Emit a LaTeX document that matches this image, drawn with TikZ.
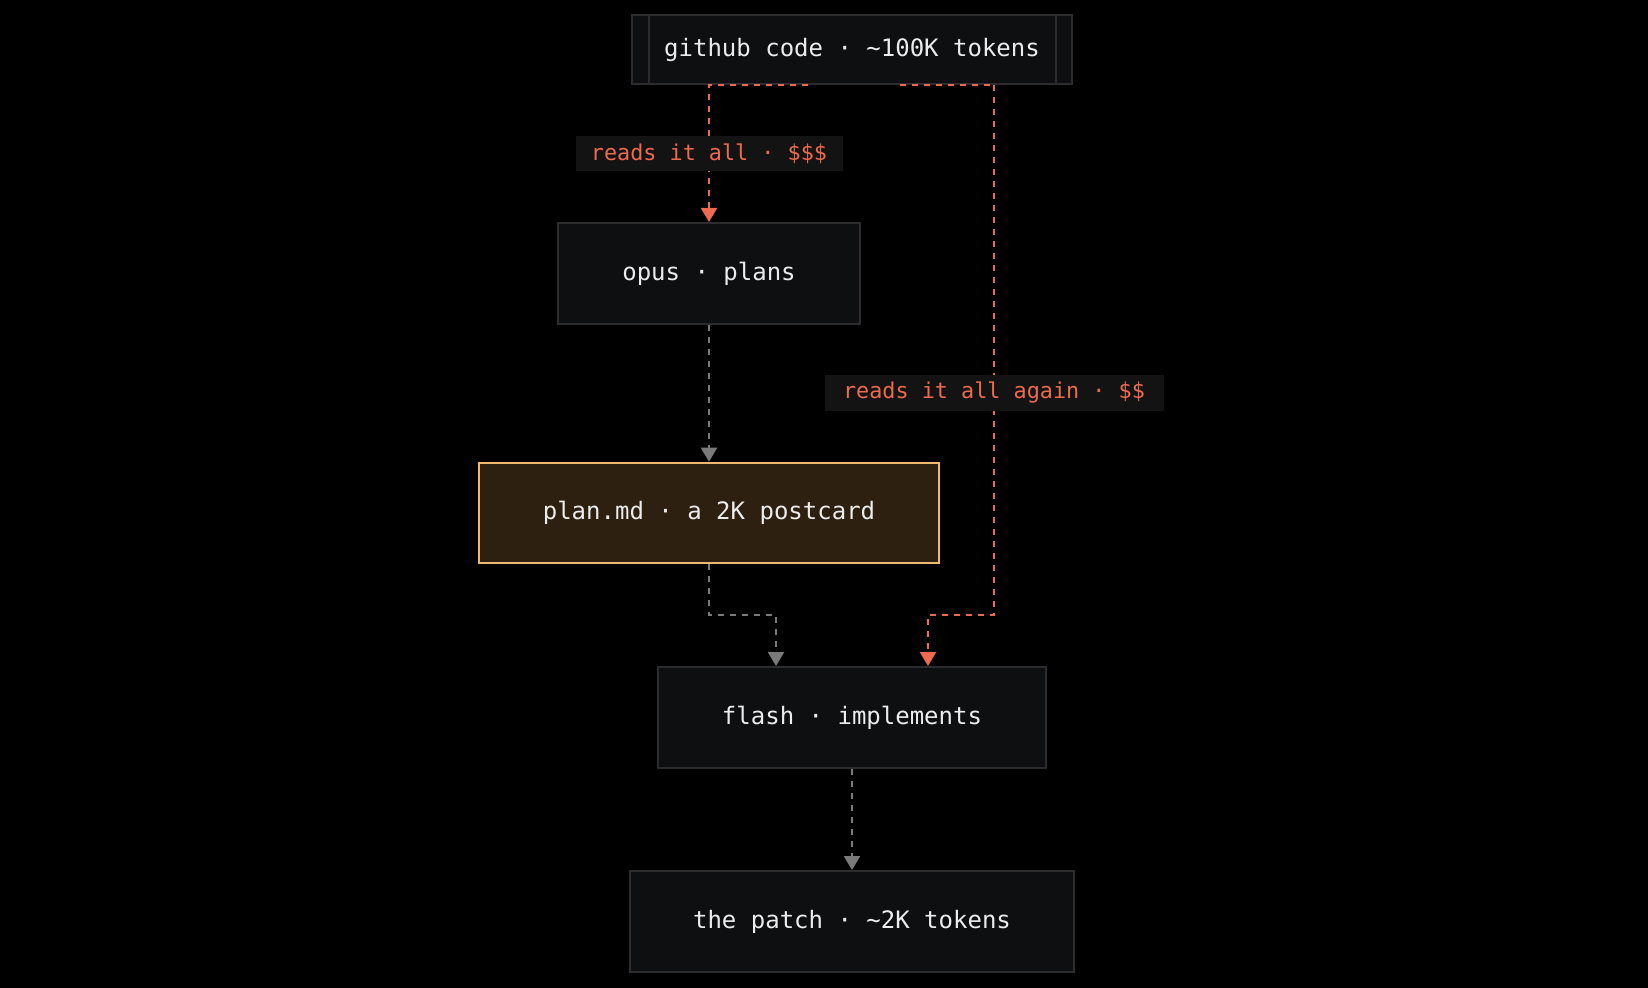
\documentclass[tikz,border=0pt]{standalone}
\usepackage{fontspec}
\setmonofont{DejaVu Sans Mono}
\usetikzlibrary{arrows.meta}
\definecolor{bx}{HTML}{0E0F11}
\definecolor{bd}{HTML}{2C2C2E}
\definecolor{tx}{HTML}{ECECEC}
\definecolor{rd}{HTML}{EE6A4E}
\definecolor{gr}{HTML}{7A7A7A}
\definecolor{lb}{HTML}{131313}
\definecolor{pf}{HTML}{2E2010}
\definecolor{pb}{HTML}{F0B870}
\begin{document}
\begin{tikzpicture}[x=0.5pt,y=-0.5pt,
 box/.style={draw=bd,fill=bx,line width=1pt,text=tx,font=\ttfamily\fontsize{12}{14}\selectfont},
 lab/.style={fill=lb,text=rd,inner sep=0,font=\ttfamily\fontsize{10.9}{13}\selectfont},
 red/.style={draw=rd,line width=1.1pt,dash pattern=on 3pt off 3pt},
 gry/.style={draw=gr,line width=1.1pt,dash pattern=on 3pt off 3pt},
 tip/.style={-{Triangle[width=8pt,length=7pt]}}]
\useasboundingbox[fill=black] (0,0) rectangle (1648,988);
\node[box,minimum width=220pt,minimum height=34.5pt] (gh) at (852,49.5) {github code · \textasciitilde 100K tokens};
\draw[bd,line width=1pt] (649,15) -- (649,84) (1056,15) -- (1056,84);
\node[box,minimum width=151pt,minimum height=50.5pt] (opus) at (709,273.5) {opus · plans};
\node[box,draw=pb,fill=pf,line width=1.3pt,minimum width=230pt,minimum height=50pt] (plan) at (709,513) {plan.md · a 2K postcard};
\node[box,minimum width=194pt,minimum height=50.5pt] (flash) at (852,717.5) {flash · implements};
\node[box,minimum width=222pt,minimum height=50.5pt] (patch) at (852,921.5) {the patch · \textasciitilde 2K tokens};
\coordinate (a1) at (808,85);
\coordinate (a2) at (900,85);
\coordinate (a3) at (994,85);
\coordinate (a4) at (994,615);
\coordinate (a5) at (928,615);
\coordinate (g1) at (709,615);
\coordinate (g2) at (776,615);
\draw[red,tip,rd] (a1) -- (709,85) -- (opus.north) node[pos=0.5,lab,minimum width=133.5pt,minimum height=17.5pt] (l1) {reads it all · \$\$\$};
\draw[red] (a2) -- (a3);
\draw[red,tip,rd] (a3) -- (a4) -- (a5) -- (a5 |- flash.north);
\node[lab,minimum width=169.5pt,minimum height=18pt] (l2) at (994,393) {reads it all again · \$\$};
\draw[gry,tip,gr] (opus.south) -- (plan.north);
\draw[gry,tip,gr] (plan.south) -- (g1) -- (g2) -- (g2 |- flash.north);
\draw[gry,tip,gr] (flash.south) -- (patch.north);
\end{tikzpicture}
\end{document}
